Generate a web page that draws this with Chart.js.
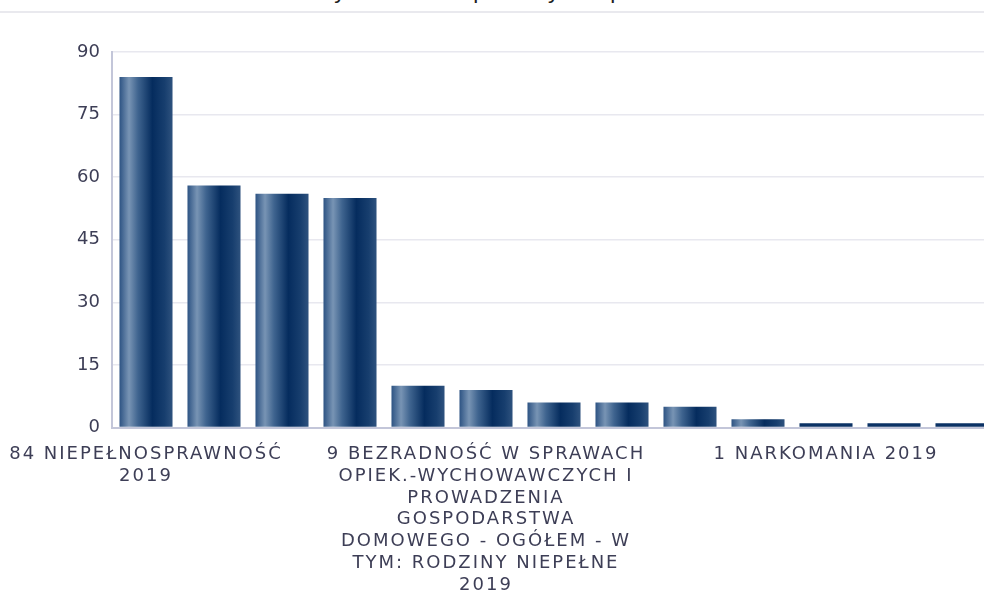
<!DOCTYPE html>
<html lang="pl">
<head>
<meta charset="utf-8">
<title>Powody udzielenia pomocy</title>
<script src="https://cdn.jsdelivr.net/npm/chart.js@4.4.1/dist/chart.umd.min.js"></script>
<style>
  html, body { margin: 0; padding: 0; background: #fff; overflow: hidden; }
  body { width: 984px; height: 596px; position: relative; }
  #tytul {
    position: absolute; left: 262px; top: -19px;
    font: 22px "DejaVu Sans", sans-serif; line-height: 22px;
    color: #222; white-space: nowrap;
  }
  #linia { position: absolute; left: 0; top: 11px; width: 984px; height: 2px; background: #e9e9ee; }
  #wykres { position: absolute; left: 0; top: 0; }
</style>
</head>
<body>
<div id="tytul">Powody udzielenia pomocy i wsparcia</div>
<div id="linia"></div>
<canvas id="wykres" width="996" height="612"></canvas>
<script>
// ── Dane ─────────────────────────────────────────────────────────────
const KATEGORIE = [
  ["84 NIEPEŁNOSPRAWNOŚĆ", "2019"],
  ["58 DŁUGOTRWAŁA LUB CIĘŻKA", "CHOROBA 2019"],
  ["56 UBÓSTWO 2019"],
  ["55 BEZROBOCIE 2019"],
  ["10 BEZRADNOŚĆ W SPRAWACH", "OPIEK.-WYCHOWAWCZYCH I", "PROWADZENIA", "GOSPODARSTWA", "DOMOWEGO - OGÓŁEM 2019"],
  ["9 BEZRADNOŚĆ W SPRAWACH", "OPIEK.-WYCHOWAWCZYCH I", "PROWADZENIA", "GOSPODARSTWA", "DOMOWEGO - OGÓŁEM - W", "TYM: RODZINY NIEPEŁNE", "2019"],
  ["6 ALKOHOLIZM 2019"],
  ["6 POTRZEBA OCHRONY", "MACIERZYŃSTWA 2019"],
  ["5 BEZRADNOŚĆ W SPRAWACH", "OPIEK.-WYCHOWAWCZYCH -", "RODZINY WIELODZIETNE 2019"],
  ["2 PRZEMOC W RODZINIE 2019"],
  ["1 NARKOMANIA 2019"],
  ["1 BEZDOMNOŚĆ 2019"],
  ["1 SIEROCTWO 2019"],
];
const WARTOSCI = [84, 58, 56, 55, 10, 9, 6, 6, 5, 2, 1, 1, 1];
const TICKI_Y = [0, 15, 30, 45, 60, 75, 90];

const KOLOR_TEKSTU = "#3d3e56";
const GRANAT = "#0b3265";
const SZER_SLUPKA = 0.78;

// gradient poziomy w poprzek słupka (jasny pasek po lewej)
function tloSlupka(ctx) {
  const chart = ctx.chart;
  if (!chart.chartArea || ctx.raw == null) return GRANAT;
  if (ctx.raw <= 1) return GRANAT; // najniższe słupki są jednolite
  const sx = chart.scales.x;
  const srodek = sx.getPixelForValue(ctx.dataIndex);
  const w = (sx.width / WARTOSCI.length) * SZER_SLUPKA;
  const g = chart.ctx.createLinearGradient(srodek - w / 2, 0, srodek + w / 2, 0);
  g.addColorStop(0.00, "#2d5383");
  g.addColorStop(0.18, "#7894b4");
  g.addColorStop(0.35, "#3f648f");
  g.addColorStop(0.62, "#052c5e");
  g.addColorStop(0.85, "#173e6e");
  g.addColorStop(1.00, "#2e527e");
  return g;
}

// szersze litery w podpisach osi X (rozstrzelenie tylko przy rysowaniu)
const rozstrzelenie = {
  id: "rozstrzelenie",
  afterLayout(chart) {
    const sx = chart.scales.x;
    if (!sx || sx._rozstrzelone) return;
    const orig = sx.drawLabels.bind(sx);
    sx.drawLabels = (area) => {
      const c = chart.ctx;
      c.save();
      c.letterSpacing = "2px";
      orig(area);
      c.restore();
    };
    sx._rozstrzelone = true;
  },
};

new Chart(document.getElementById("wykres"), {
  type: "bar",
  data: {
    labels: KATEGORIE,
    datasets: [{
      data: WARTOSCI,
      backgroundColor: tloSlupka,
      borderWidth: 0,
      categoryPercentage: 1,
      barPercentage: SZER_SLUPKA,
    }],
  },
  plugins: [rozstrzelenie],
  options: {
    responsive: false,
    animation: false,
    layout: { padding: { top: 52, left: 0, right: 0, bottom: 0 } },
    plugins: {
      legend: { display: false },
      title: { display: false },
    },
    scales: {
      x: {
        offset: true,
        grid: { display: false, drawTicks: false },
        border: { display: true, color: "#c3c6d9", width: 2 },
        ticks: {
          autoSkip: false,
          maxRotation: 0,
          minRotation: 0,
          padding: 16,
          color: KOLOR_TEKSTU,
          font: { family: "'DejaVu Sans', sans-serif", size: 18, lineHeight: 1.21 },
          callback: (v, i) => (i % 5 === 0 ? KATEGORIE[i] : ""),
        },
      },
      y: {
        min: 0,
        max: 90,
        afterFit: (s) => { s.width = 112; },
        afterBuildTicks: (s) => { s.ticks = TICKI_Y.map((v) => ({ value: v })); },
        grid: { color: "#e8e8ef", lineWidth: 1.5, drawTicks: false },
        border: { display: true, color: "#c3c6d9", width: 2 },
        ticks: {
          padding: 12,
          color: KOLOR_TEKSTU,
          font: { family: "'DejaVu Sans', sans-serif", size: 18 },
        },
      },
    },
  },
});
</script>
</body>
</html>
